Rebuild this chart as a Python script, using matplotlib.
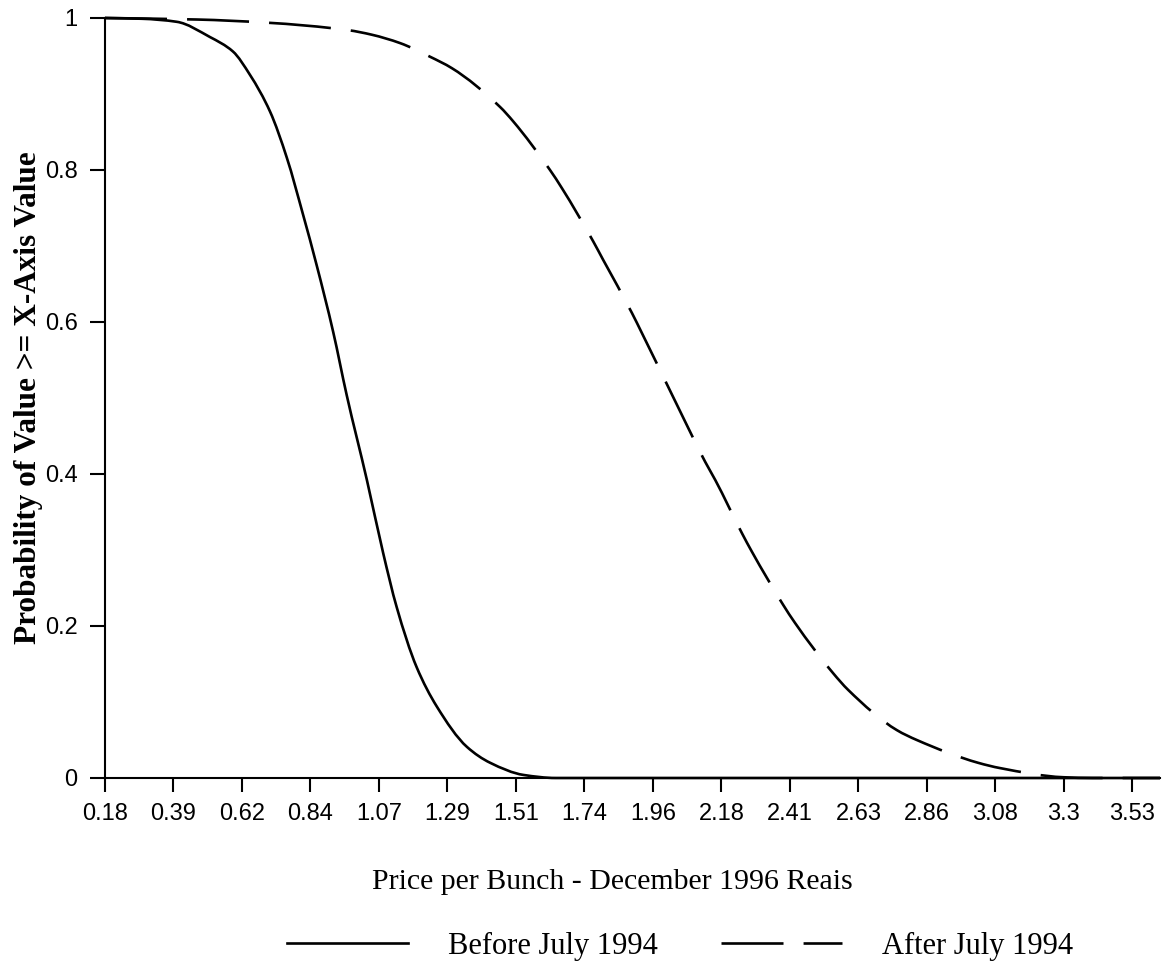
import matplotlib
matplotlib.use("Agg")
import matplotlib.pyplot as plt
import numpy as np
from matplotlib.lines import Line2D
from matplotlib.path import Path
from matplotlib.patches import PathPatch

plt.rcParams['font.family'] = ['Liberation Sans', 'DejaVu Sans']

# exceedance curves, price per bunch (Dec 1996 reais) vs probability
before_price = [0.18, 0.30, 0.414, 0.522, 0.597, 0.653, 0.718, 0.773, 0.826, 0.870,
                0.924, 0.968, 1.034, 1.087, 1.131, 1.196, 1.262, 1.360, 1.436, 1.545,
                1.65, 2.0, 3.0, 3.62]
before_prob = [1.0, 0.999, 0.995, 0.975, 0.956, 0.925, 0.877, 0.816, 0.741, 0.675,
               0.587, 0.504, 0.392, 0.296, 0.225, 0.146, 0.094, 0.041, 0.020, 0.004,
               0.0, 0.0, 0.0, 0.0]

after_price = [0.18, 0.48, 0.702, 0.973, 1.050, 1.142, 1.240, 1.311, 1.468, 1.511,
               1.631, 1.670, 1.772, 1.804, 1.898, 1.930, 2.016, 2.045, 2.137, 2.170,
               2.257, 2.289, 2.391, 2.430, 2.554, 2.603, 2.762, 2.827, 3.027, 3.099,
               3.305, 3.40, 3.62]
after_prob = [1.0, 0.998, 0.994, 0.984, 0.978, 0.967, 0.949, 0.934, 0.883, 0.864,
              0.800, 0.776, 0.706, 0.682, 0.612, 0.586, 0.515, 0.491, 0.416, 0.392,
              0.322, 0.298, 0.228, 0.204, 0.138, 0.116, 0.063, 0.050, 0.020, 0.013,
              0.001, 0.0, 0.0]

x_ticklabels = ['0.18', '0.39', '0.62', '0.84', '1.07', '1.29', '1.51', '1.74',
                '1.96', '2.18', '2.41', '2.63', '2.86', '3.08', '3.3', '3.53']
y_ticks = [0, 0.2, 0.4, 0.6, 0.8, 1]
y_ticklabels = ['0', '0.2', '0.4', '0.6', '0.8', '1']

series_names = ['Before July 1994', 'After July 1994']

# ticks sit on an even grid between the first and last label
x_ticks = np.linspace(0.18, 3.53, len(x_ticklabels))


def smooth_path(xs, ys):
    # monotone cubic (Fritsch-Carlson slopes) through the points, as Bezier segments
    x = np.asarray(xs, float)
    y = np.asarray(ys, float)
    h = np.diff(x)
    d = np.diff(y) / h
    m = np.empty_like(x)
    m[0], m[-1] = d[0], d[-1]
    for i in range(1, len(x) - 1):
        if d[i - 1] * d[i] <= 0:
            m[i] = 0.0
        else:
            w1 = 2 * h[i] + h[i - 1]
            w2 = h[i] + 2 * h[i - 1]
            m[i] = (w1 + w2) / (w1 / d[i - 1] + w2 / d[i])
    verts = [(x[0], y[0])]
    codes = [Path.MOVETO]
    for i in range(len(x) - 1):
        verts += [(x[i] + h[i] / 3, y[i] + m[i] * h[i] / 3),
                  (x[i + 1] - h[i] / 3, y[i + 1] - m[i + 1] * h[i] / 3),
                  (x[i + 1], y[i + 1])]
        codes += [Path.CURVE4] * 3
    return Path(verts, codes)


W, H = 1164, 968
fig = plt.figure(figsize=(W / 100, H / 100), dpi=100)
ax = fig.add_axes([105 / W, 190 / H, 1055 / W, 760 / H])

lw = 1.9
dash = (0, (23.5, 7.6))
ax.add_patch(PathPatch(smooth_path(before_price, before_prob), fill=False,
                       edgecolor='black', lw=lw, clip_on=False))
ax.add_patch(PathPatch(smooth_path(after_price, after_prob), fill=False,
                       edgecolor='black', lw=lw, linestyle=dash, clip_on=False))

ax.set_xlim(0.18, 3.62)
ax.set_ylim(0, 1)
ax.set_xticks(x_ticks)
ax.set_xticklabels(x_ticklabels)
ax.set_yticks(y_ticks)
ax.set_yticklabels(y_ticklabels)

for side in ['top', 'right']:
    ax.spines[side].set_visible(False)
for side in ['left', 'bottom']:
    ax.spines[side].set_linewidth(1.5)

ax.tick_params(axis='both', direction='out', width=1.5, labelsize=17, colors='black')
ax.tick_params(axis='x', length=10, pad=8)
ax.tick_params(axis='y', length=10.8, pad=9)

serif = ['Liberation Serif', 'DejaVu Serif']
fig.text(612 / W, 1 - 882 / H, 'Price per Bunch - December 1996 Reais',
         family=serif, fontsize=21.5, ha='center', va='center')
fig.text(29 / W, 1 - 398 / H, 'Probability of Value >= X-Axis Value',
         family=serif, fontsize=22.5, fontweight='bold', rotation=90,
         ha='center', va='center')

handles = [Line2D([], [], color='black', lw=lw),
           Line2D([], [], color='black', lw=lw, linestyle=dash)]
fig.legend(handles, series_names, loc='center', bbox_to_anchor=(680 / W, 1 - 946 / H),
           ncol=2, frameon=False, prop={'family': serif, 'size': 22},
           handlelength=3.95, handletextpad=1.31, columnspacing=2.06,
           borderpad=0, borderaxespad=0)

fig.savefig('out.png', dpi=100)
